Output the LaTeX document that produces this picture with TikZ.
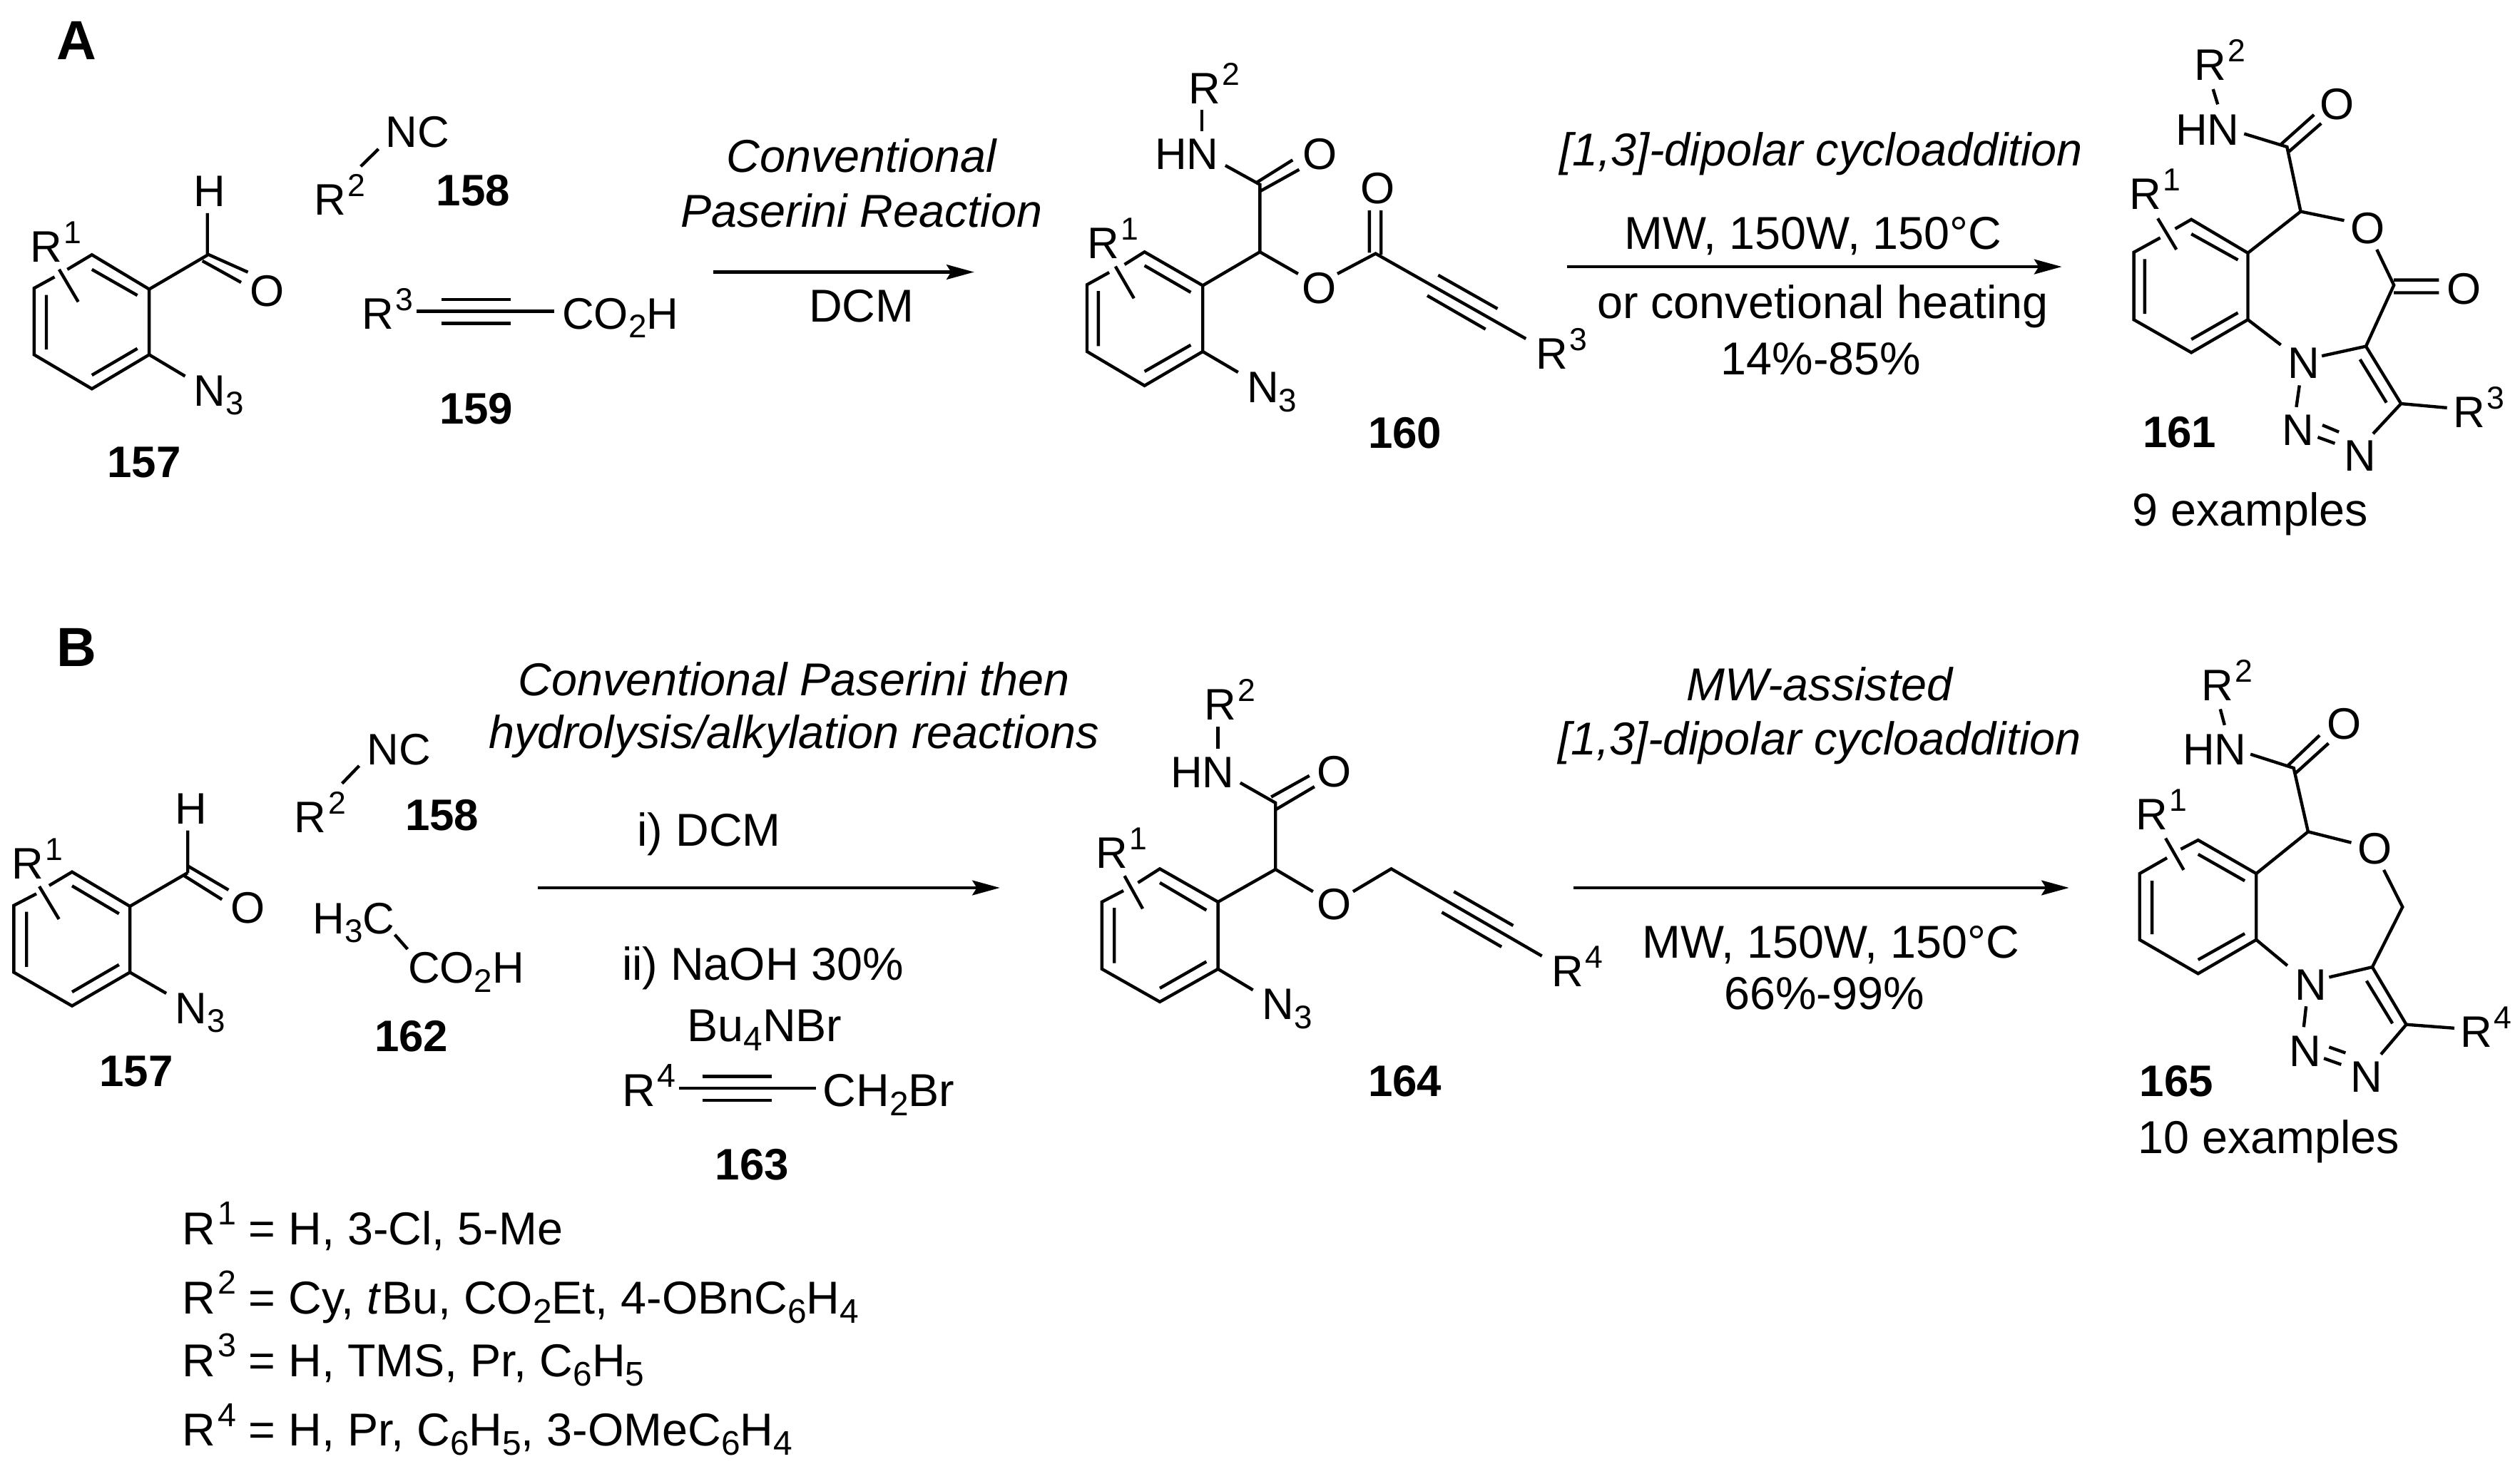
\documentclass[tikz,border=0pt]{standalone}
\usepackage{fontspec}
\usepackage{graphicx}
\setmainfont{Liberation Sans}
\usetikzlibrary{arrows.meta}
\newcounter{lbn}
\newcommand\up[1]{\kern0.04em\raisebox{0.42em}{\scalebox{.72}{#1}}}
\newcommand\dn[1]{\raisebox{-0.2em}{\scalebox{.74}{#1}}}
\newcommand\lb[2]{\stepcounter{lbn}\node[lbl] (lb\thelbn) at (#1) {#2};}
\newcommand\nm[2]{\stepcounter{lbn}\node[cmp] (lb\thelbn) at (#1) {#2};}
\newcommand\tc[2]{\stepcounter{lbn}\node[txc] (lb\thelbn) at (#1) {#2};}
\newcommand\tl[2]{\stepcounter{lbn}\node[txl] (lb\thelbn) at (#1) {#2};}
\newcommand\bd[1]{\draw[bond] #1;}
\tikzset{
 lbl/.style={anchor=base west,inner sep=0pt,font=\fontsize{17.6}{20}\selectfont},
 cmp/.style={anchor=base west,inner sep=0pt,font=\fontsize{17.6}{20}\selectfont\bfseries},
 txc/.style={anchor=base,inner sep=0pt,font=\fontsize{18.4}{22}\selectfont},
 txl/.style={anchor=base west,inner sep=0pt,font=\fontsize{18.4}{22}\selectfont},
 bond/.style={line width=1.25pt,line join=miter,line cap=butt},
 rxn/.style={line width=1.3pt,-{Stealth[length=11pt,width=5.9pt,inset=1.8pt]}},
 frame/.style n args={4}{shift={(#1*0.284528pt,-#2*0.284528pt)},x={#3/1568*0.284528pt},y={-#4/1568*0.284528pt}},
 over/.style={x=0.6423pt,y=-0.6423pt}
}
\begin{document}
\begin{tikzpicture}
\path[fill=white,use as bounding box] (0,0) rectangle (35.33,-20.52);
% ---------- overview: panels, reaction arrows, conditions ----------
\begin{scope}[over]
\node[anchor=base west,inner sep=0pt,font=\fontsize{22}{24}\selectfont\bfseries] (panelA) at (35,37) {A};
\node[anchor=base west,inner sep=0pt,font=\fontsize{22}{24}\selectfont\bfseries] (panelB) at (35,414) {B};
\coordinate (a1s) at (443,169); \coordinate (a1e) at (605,169);
\coordinate (a2s) at (973,165.7); \coordinate (a2e) at (1280.5,165.7);
\coordinate (b1s) at (334,551.5); \coordinate (b1e) at (621,551.5);
\coordinate (b2s) at (977,551.5); \coordinate (b2e) at (1285,551.5);
\draw[rxn] (a1s) -- (a1e);
\draw[rxn] (a2s) -- (a2e);
\draw[rxn] (b1s) -- (b1e);
\draw[rxn] (b2s) -- (b2e);
\tc{535,107}{\itshape Conventional}
\tc{535,141}{\itshape Paserini Reaction}
\tc{535,200}{DCM}
\tc{1131,103}{\itshape [1,3]-dipolar cycloaddition}
\tc{1126,155}{MW, 150W, 150°C}
\tc{1132,198}{or convetional heating}
\tc{1131,233}{14\%-85\%}
\tc{493,432}{\itshape Conventional Paserini then}
\tc{493,465}{\itshape hydrolysis/alkylation reactions}
\tc{1130,435}{\itshape MW-assisted}
\tc{1130,469}{\itshape [1,3]-dipolar cycloaddition}
\tc{1137,595}{MW, 150W, 150°C}
\tc{1133,627}{66\%-99\%}
\tl{113,773}{R\up{1} = H, 3-Cl, 5-Me}
\tl{113,816}{R\up{2} = Cy, \textit{t}Bu, CO\dn{2}Et, 4-OBnC\dn{6}H\dn{4}}
\tl{113,855}{R\up{3} = H, TMS, Pr, C\dn{6}H\dn{5}}
\tl{113,898}{R\up{4} = H, Pr, C\dn{6}H\dn{5}, 3-OMeC\dn{6}H\dn{4}}
\end{scope}
% ---------- reagents on the first arrow of B ----------
\begin{scope}[frame={700}{1100}{800}{600}]
\tl{378,225}{i) DCM}
\tl{336,718}{ii) NaOH 30\%}
\tl{515,943}{Bu\dn{4}NBr}
\tl{336,1180}{R\up{4}}
\tl{888,1180}{CH\dn{2}Br}
\nm{592,1450}{163}
\bd{(494,1113)--(870,1113) (558,1070)--(748,1070) (558,1158)--(748,1158)}
\end{scope}
% ---------- 157, 158, 159 ----------
\begin{scope}[frame={0}{0}{1000}{750}]
\bd{(120,812)--(75,845)--(75,1040)--(202,1140)--(328,1040)--(328,848)--(202,747)--(148,790)}
\bd{(202,790)--(302,866) (102,865)--(102,1025) (202,1100)--(302,1022)}
\bd{(328,848)--(456,748) (456,625)--(456,748) (456,745)--(545,798) (445,765)--(530,828)}
\bd{(328,1040)--(407,1103) (130,790)--(172,885)}
\lb{425,605}{H}\lb{548,897}{O}\lb{425,1190}{N\dn{3}}\lb{65,768}{R\up{1}}
\lb{847,432}{NC}\bd{(832,437)--(793,488)}\lb{690,630}{R\up{2}}\nm{958,603}{158}
\lb{795,965}{R\up{3}}\bd{(915,913)--(1218,913) (970,878)--(1122,878) (970,948)--(1122,948)}
\lb{1235,965}{CO\dn{2}H}\nm{965,1243}{159}\nm{235,1400}{157}
\end{scope}
% ---------- 160 ----------
\begin{scope}[frame={1500}{100}{800}{600}]
\bd{(108,737)--(47,782)--(47,1027)--(205,1152)--(365,1027)--(365,785)--(205,662)--(150,708)}
\bd{(205,712)--(332,810) (78,805)--(78,1007) (205,1100)--(332,1003)}
\bd{(125,715)--(176,832) (365,1027)--(462,1103)}
\lb{47,685}{R\up{1}}\lb{485,1215}{N\dn{3}}
\bd{(365,785)--(522,662)--(522,415)--(427,345) (510,410)--(612,325) (522,440)--(630,360)}
\lb{638,360}{O}\lb{232,360}{HN}\bd{(363,142)--(363,220)}\lb{325,118}{R\up{2}}
\bd{(522,662)--(627,742) (735,742)--(840,668)--(1253,980) (823,665)--(823,510) (855,672)--(855,510)}
\lb{637,850}{O}\lb{797,485}{O}
\bd{(1012,747)--(1175,870) (982,822)--(1142,945)}
\lb{1280,1092}{R\up{3}}\nm{818,1382}{160}
\end{scope}
% ---------- 161 ----------
\begin{scope}[frame={2850}{0}{683}{760}]
\bd{(410,688)--(325,730)--(325,925)--(510,1020)--(692,925)--(692,732)--(510,635)--(458,662)}
\bd{(510,677)--(660,752) (360,750)--(360,908) (510,982)--(660,905) (402,632)--(462,722)}
\lb{310,605}{R\up{1}}
\bd{(692,732)--(862,612)--(818,425)--(680,387) (798,418)--(905,332) (825,438)--(928,357)}
\lb{922,345}{O}\lb{458,420}{HN}\bd{(580,258)--(595,302)}\lb{518,232}{R\up{2}}
\bd{(862,612)--(1002,638) (1107,722)--(1162,825)--(1072,1002)--(930,1030) (1162,810)--(1307,810) (1162,847)--(1307,847)}
\lb{1022,705}{O}\lb{1330,880}{O}
\bd{(692,925)--(798,998) (858,1115)--(848,1178) (932,1230)--(985,1250) (917,1265)--(972,1283)}
\lb{818,1095}{N}\lb{800,1288}{N}\lb{1000,1362}{N}
\bd{(1095,1255)--(1185,1168)--(1072,1002) (1053,1040)--(1138,1165) (1185,1168)--(1333,1180)}
\lb{1352,1237}{R\up{3}}\nm{352,1295}{161}\tl{318,1522}{9 examples}
\end{scope}
% ---------- 157, 158, 162 (B) ----------
\begin{scope}[frame={0}{1000}{800}{600}]
\bd{(100,662)--(38,705)--(38,950)--(198,1073)--(357,950)--(357,708)--(198,582)--(135,632)}
\bd{(198,633)--(327,735) (73,728)--(73,930) (198,1022)--(327,922) (108,635)--(162,755)}
\lb{30,607}{R\up{1}}
\bd{(357,708)--(516,585) (516,430)--(516,585) (516,560)--(628,648) (505,595)--(610,683) (357,950)--(457,1027)}
\lb{632,770}{O}\lb{480,407}{H}\lb{480,1137}{N\dn{3}}
\lb{1007,190}{NC}\bd{(987,193)--(940,258)}\lb{808,437}{R\up{2}}\nm{1112,430}{158}
\lb{858,808}{H\dn{3}C}\bd{(1085,812)--(1120,865)}\lb{1120,990}{CO\dn{2}H}\nm{1028,1240}{162}\nm{272,1368}{157}
\end{scope}
% ---------- 164 ----------
\begin{scope}[frame={1500}{900}{800}{650}]
\bd{(147,842)--(88,880)--(88,1107)--(247,1218)--(407,1107)--(407,880)--(247,768)--(187,815)}
\bd{(247,815)--(375,908) (122,900)--(122,1087) (247,1172)--(375,1082) (150,792)--(200,903)}
\lb{70,765}{R\up{1}}
\bd{(407,1107)--(503,1178)}\lb{527,1278}{N\dn{3}}
\bd{(407,880)--(565,770)--(565,545)--(468,477) (553,525)--(658,453) (565,568)--(672,490)}
\lb{678,490}{O}\lb{275,493}{HN}\bd{(407,288)--(407,362)}\lb{368,265}{R\up{2}}
\bd{(565,770)--(668,845) (778,845)--(883,768)--(1297,1063) (1055,845)--(1218,960) (1022,915)--(1186,1032)}
\lb{678,940}{O}\lb{1322,1167}{R\up{4}}\nm{818,1537}{164}
\end{scope}
% ---------- 165 ----------
\begin{scope}[frame={2900}{850}{633}{800}]
\bd{(342,692)--(247,735)--(247,917)--(450,1010)--(652,917)--(652,735)--(450,643)--(390,668)}
\bd{(450,682)--(612,755) (290,755)--(290,902) (450,972)--(612,900) (337,638)--(400,725)}
\lb{233,615}{R\up{1}}
\bd{(652,735)--(832,620)--(782,445)--(632,407) (762,438)--(872,355) (790,458)--(903,377)}
\lb{895,365}{O}\lb{395,437}{HN}\bd{(527,283)--(542,327)}\lb{460,260}{R\up{2}}
\bd{(832,620)--(982,650) (1095,725)--(1160,827)--(1055,992)--(905,1020)}
\lb{1002,708}{O}
\bd{(652,917)--(760,988) (825,1100)--(817,1157) (905,1212)--(962,1228) (887,1243)--(947,1260)}
\lb{785,1082}{N}\lb{765,1265}{N}\lb{978,1335}{N}
\bd{(1085,1232)--(1173,1150)--(1055,992) (1035,1030)--(1125,1147) (1173,1150)--(1340,1160)}
\lb{1360,1213}{R\up{4}}\nm{245,1348}{165}\tl{240,1505}{10 examples}
\end{scope}
\end{tikzpicture}
\end{document}
